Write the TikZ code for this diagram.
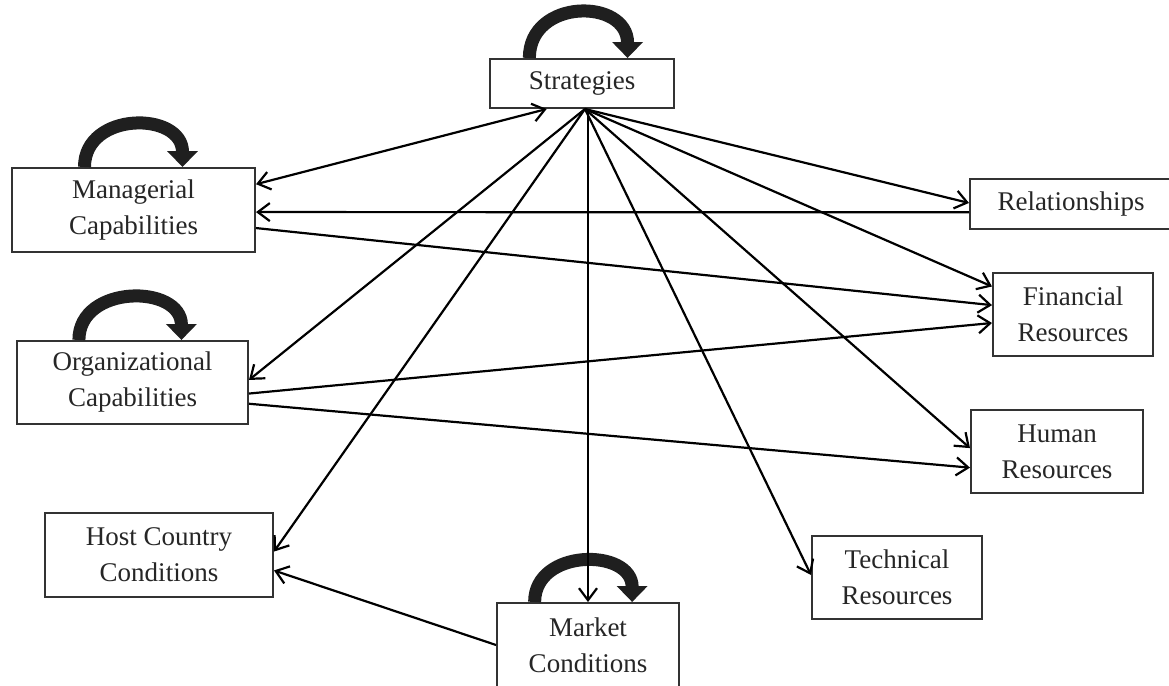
\documentclass[tikz,border=0pt]{standalone}
\usepackage{fontspec}
\setmainfont{Liberation Serif}
\usetikzlibrary{arrows.meta,calc}
\begin{document}
\begin{tikzpicture}[x=0.5pt,y=-0.5pt,
  box/.style={draw=black!80, line width=1pt, fill=white, align=center, inner sep=0pt,
    font=\fontsize{13.5}{18}\selectfont, text=black!85},
  conn/.style={draw=black, line width=1.1pt, -{Straight Barb[length=6pt,width=9pt]}},
  dconn/.style={draw=black, line width=1.1pt, {Straight Barb[length=6pt,width=9pt]}-{Straight Barb[length=6pt,width=9pt]}},
  selfloop/.style={draw=black!88, line width=6.5pt, -{Triangle[length=8pt,width=15pt]}}]
\useasboundingbox (0,0) rectangle (1169,686);
% boxes
\node[box, minimum width=92pt, minimum height=24.5pt] (strat) at (582,83.5) {Strategies};
\node[box, minimum width=121.5pt, minimum height=42pt] (mgr) at (133.5,210) {Managerial\\Capabilities};
\node[box, minimum width=115.5pt, minimum height=41.5pt] (org) at (132.5,382.5) {Organizational\\Capabilities};
\node[box, minimum width=114pt, minimum height=42pt] (host) at (159,555) {Host Country\\Conditions};
\node[box, minimum width=91pt, minimum height=42pt] (market) at (588,645) {Market\\Conditions};
\node[box, minimum width=85pt, minimum height=41.5pt] (tech) at (897,577.5) {Technical\\Resources};
\node[box, minimum width=86pt, minimum height=41.5pt] (human) at (1057,451.5) {Human\\Resources};
\node[box, minimum width=80pt, minimum height=41.5pt] (fin) at (1073,314.5) {Financial\\Resources};
\node[box, minimum width=101pt, minimum height=25pt] (rel) at (1071,204) {Relationships};
% self loops
\draw[selfloop] ($(strat.north west)!0.217!(strat.north east)$) .. controls +(0,-60) and +(0,-60) .. ($(strat.north west)!0.745!(strat.north east)$);
\draw[selfloop] ($(mgr.north west)!0.30!(mgr.north east)$) .. controls +(0,-56) and +(0,-56) .. ($(mgr.north west)!0.70!(mgr.north east)$);
\draw[selfloop] ($(org.north west)!0.27!(org.north east)$) .. controls +(0,-56) and +(0,-56) .. ($(org.north west)!0.71!(org.north east)$);
\draw[selfloop] ($(market.north west)!0.21!(market.north east)$) .. controls +(0,-54) and +(0,-54) .. ($(market.north west)!0.74!(market.north east)$);
% connectors
\coordinate (hub) at ($(strat.south west)!0.516!(strat.south east)$);
\draw[dconn] ($(mgr.north east)!0.20!(mgr.south east)$) -- ($(strat.south west)!0.31!(strat.south east)$);
\draw[conn] ($(rel.north west)!0.66!(rel.south west)$) -- ($(mgr.north east)!0.524!(mgr.south east)$);
\draw[conn] ($(mgr.north east)!0.71!(mgr.south east)$) -- ($(fin.north west)!0.39!(fin.south west)$);
\draw[conn] (hub) -- ($(rel.north west)!0.48!(rel.south west)$);
\draw[conn] (hub) -- ($(fin.north west)!0.17!(fin.south west)$);
\draw[conn] (hub) -- ($(human.north west)!0.46!(human.south west)$);
\draw[conn] (hub) -- ($(tech.north west)!0.47!(tech.south west)$);
\draw[conn] (hub) -- ($(org.north east)!0.47!(org.south east)$);
\draw[conn] (hub) -- ($(host.north east)!0.46!(host.south east)$);
\draw[conn] (strat.south -| market.north) -- (market.north);
\draw[conn] ($(org.north east)!0.63!(org.south east)$) -- ($(fin.north west)!0.60!(fin.south west)$);
\draw[conn] ($(org.north east)!0.75!(org.south east)$) -- ($(human.north west)!0.69!(human.south west)$);
\draw[conn] (market.west) -- ($(host.north east)!0.68!(host.south east)$);
\end{tikzpicture}
\end{document}
